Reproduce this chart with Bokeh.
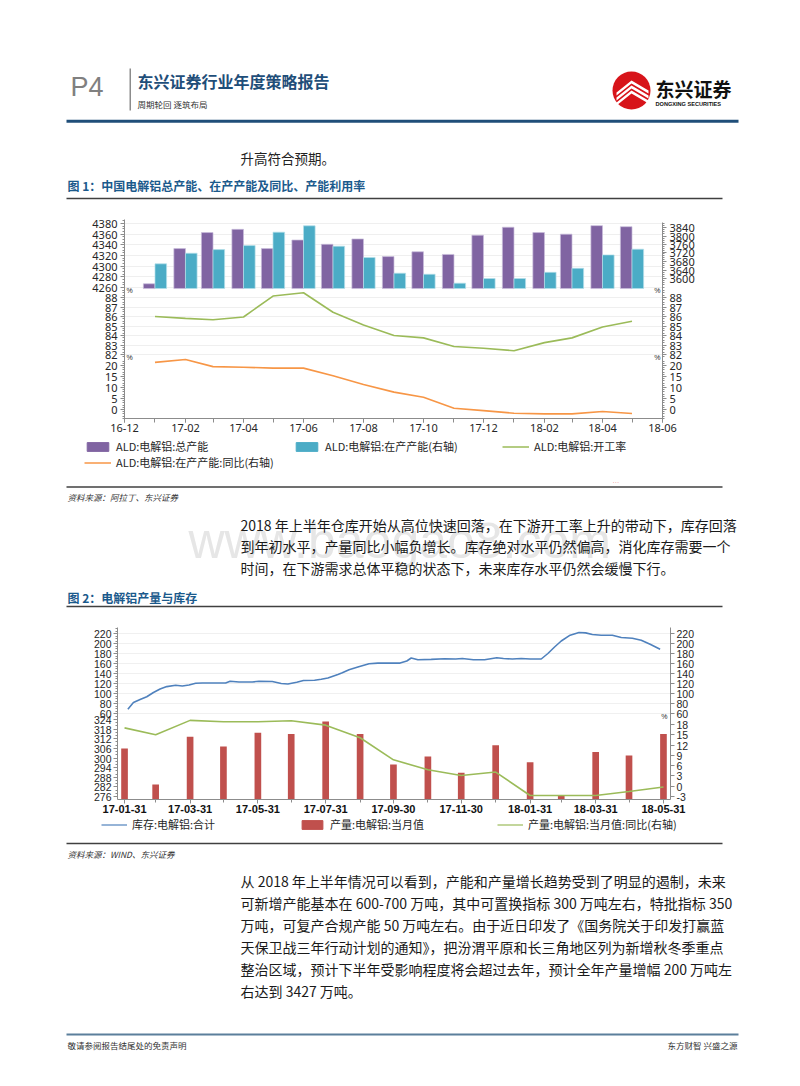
import math
import pandas as pd
from bokeh.plotting import figure
from bokeh.layouts import column
from bokeh.models import (Range1d, LinearAxis, FixedTicker, DatetimeTickFormatter,
                          Legend, LegendItem, Label, BoxAnnotation, PolyAnnotation,
                          ColumnDataSource)
from bokeh.transform import dodge
from bokeh.embed import file_html
from bokeh.resources import INLINE

# ---------------- chart 1 data ----------------
cap_months = ["2017-01", "2017-02", "2017-03", "2017-04", "2017-05", "2017-06", "2017-07",
              "2017-08", "2017-09", "2017-10", "2017-11", "2017-12", "2018-01", "2018-02",
              "2018-03", "2018-04", "2018-05"]
total_capacity = [4267, 4333, 4363, 4369, 4333, 4349, 4341, 4351, 4318, 4327, 4322, 4358,
                  4373, 4363, 4360, 4376, 4374]
operating_capacity = [3669, 3719, 3736, 3755, 3818, 3848, 3752, 3699, 3625, 3620, 3578, 3600,
                      3600, 3629, 3648, 3711, 3738]
utilization = [86.0, 85.8, 85.65, 85.95, 88.15, 88.5, 86.45, 85.1, 84.0, 83.75, 82.85, 82.65,
               82.4, 83.25, 83.75, 84.9, 85.5]
operating_yoy = [21.4, 22.7, 19.5, 19.2, 18.8, 18.8, 15.3, 11.4, 7.9, 5.6, 0.6, -0.5, -1.7,
                 -2.0, -2.0, -0.9, -1.8]
c1_label_months = ["2016-12", "2017-02", "2017-04", "2017-06", "2017-08", "2017-10", "2017-12",
                   "2018-02", "2018-04", "2018-06"]
c1_left_ticks = [4260, 4280, 4300, 4320, 4340, 4360, 4380]
c1_right_ticks = [3600, 3640, 3680, 3720, 3760, 3800, 3840]
c1_util_ticks = [82, 83, 84, 85, 86, 87, 88]
c1_yoy_ticks = [0, 5, 10, 15, 20]
c1_labels = ["ALD:电解铝:总产能", "ALD:电解铝:在产产能(右轴)", "ALD:电解铝:开工率",
             "ALD:电解铝:在产产能:同比(右轴)"]

# ---------------- chart 2 data ----------------
prod_months = ["2017-01-31", "2017-02-28", "2017-03-31", "2017-04-30", "2017-05-31",
               "2017-06-30", "2017-07-31", "2017-08-31", "2017-09-30", "2017-10-31",
               "2017-11-30", "2017-12-31", "2018-01-31", "2018-02-28", "2018-03-31",
               "2018-04-30", "2018-05-31"]
production = [306, 283.5, 313.3, 307.2, 315.8, 315, 322.8, 315, 296, 301, 290.8, 308, 297.3,
              276.8, 303.7, 301.6, 315]
production_yoy = [17.1, 15.1, 19.3, 18.9, 18.9, 19.2, 17.9, 14.2, 7.7, 4.8, 3.1, 4.1, -2.8,
                  -2.8, -2.8, -1.6, -0.3]
inv_dates = ["2017-02-03", "2017-02-08", "2017-02-14", "2017-02-20", "2017-02-26", "2017-03-04",
             "2017-03-10", "2017-03-18", "2017-03-24", "2017-03-30", "2017-04-05", "2017-04-11",
             "2017-04-19", "2017-05-02", "2017-05-06", "2017-05-14", "2017-05-26", "2017-06-01",
             "2017-06-13", "2017-06-21", "2017-06-27", "2017-07-05", "2017-07-11", "2017-07-21",
             "2017-07-27", "2017-08-02", "2017-08-11", "2017-08-15", "2017-08-21", "2017-08-29",
             "2017-09-08", "2017-09-16", "2017-09-28", "2017-10-06", "2017-10-12", "2017-10-16",
             "2017-10-22", "2017-11-03", "2017-11-15", "2017-11-25", "2017-12-01", "2017-12-11",
             "2017-12-21", "2018-01-01", "2018-01-07", "2018-01-15", "2018-01-23", "2018-01-31",
             "2018-02-10", "2018-02-16", "2018-02-22", "2018-02-28", "2018-03-08", "2018-03-16",
             "2018-03-22", "2018-03-28", "2018-04-05", "2018-04-15", "2018-04-23", "2018-05-03",
             "2018-05-11", "2018-05-19", "2018-05-28"]
inventory = [68.7, 82, 88, 93.6, 102, 109, 113.8, 116.5, 115, 117, 120.5, 121, 121, 121, 124.5,
             123, 123, 124.5, 124, 120, 119, 122.5, 126, 126.5, 128.5, 131, 138, 141.4, 147.4,
             152.8, 159.5, 160.8, 160.8, 160.8, 165, 171, 167.6, 168.2, 169.6, 169, 170, 167.6,
             167.6, 171.6, 170, 169, 170, 169, 169, 180, 193, 205, 216.6, 222, 221.3, 218, 216.6,
             216.6, 212, 210.6, 206.6, 198.5, 188.4]
c2_label_dates = ["2017-01-31", "2017-03-31", "2017-05-31", "2017-07-31", "2017-09-30",
                  "2017-11-30", "2018-01-31", "2018-03-31", "2018-05-31"]
c2_inv_ticks = [60, 80, 100, 120, 140, 160, 180, 200, 220]
c2_prod_ticks = [276, 282, 288, 294, 300, 306, 312, 318, 324]
c2_yoy_ticks = [-3, 0, 3, 6, 9, 12, 15, 18]
c2_labels = ["库存:电解铝:合计", "产量:电解铝:当月值", "产量:电解铝:当月值:同比(右轴)"]

# ---------------- page text ----------------
para1 = ["2018 年上半年仓库开始从高位快速回落，在下游开工率上升的带动下，库存回落",
         "到年初水平，产量同比小幅负增长。库存绝对水平仍然偏高，消化库存需要一个",
         "时间，在下游需求总体平稳的状态下，未来库存水平仍然会缓慢下行。"]
para2 = ["从 2018 年上半年情况可以看到，产能和产量增长趋势受到了明显的遏制，未来",
         "可新增产能基本在 600-700 万吨，其中可置换指标 300 万吨左右，特批指标 350",
         "万吨，可复产合规产能 50 万吨左右。由于近日印发了《国务院关于印发打赢蓝",
         "天保卫战三年行动计划的通知》，把汾渭平原和长三角地区列为新增秋冬季重点",
         "整治区域，预计下半年受影响程度将会超过去年，预计全年产量增幅 200 万吨左",
         "右达到 3427 万吨。"]

W = 800
CJK = "Noto Sans CJK SC"
AXC = "#8c8c8c"
TXT = "#262626"
PURPLE, CYAN, GREEN, ORANGE = "#8064a2", "#4bacc6", "#9bbb59", "#f79646"
BLUE, RED = "#4f81bd", "#c0504d"
NAVY = "#1f4e79"
TITLEC = "#1b5a8c"
DAY = 86400000
NAN = float("nan")


def ms(s):
    return pd.Timestamp(s).value // 10**6


def band(h, top=0):
    # data y = page pixels measured from a reference line `top` px above the band's own top
    p = figure(width=W, height=h, x_range=Range1d(0, W), y_range=Range1d(h - top, -top),
               x_axis_location=None, y_axis_location=None, min_border=0,
               frame_align=False, output_backend="svg", toolbar_location=None)
    p.outline_line_color = None
    p.grid.visible = False
    return p


def text(p, x, y, s, size, color=TXT, style="normal", font=CJK, align="left"):
    p.add_layout(Label(x=x, y=y, text=s, text_font=font, text_font_size=f"{size}px",
                       text_color=color, text_font_style=style, text_align=align,
                       text_baseline="middle"))


def rule(p, x0, x1, y, t, color):
    p.add_layout(BoxAnnotation(left=x0, right=x1, top=y - t / 2, bottom=y + t / 2,
                               fill_color=color, fill_alpha=1, line_color=None))


def lin_range(va, ya, vb, yb, top, bot):
    """value range spanning the frame, given two (value, screen-y) reference points"""
    k = (ya - yb) / (vb - va)
    return (va - (bot - ya) / k, va + (ya - top) / k)


def virt(v, r, fh):
    return (v - r[0]) / (r[1] - r[0]) * fh


def stacked_ticker(groups, fh):
    major, minor, over = [], [], {}
    for ticks, step, lo, hi, r in groups:
        for v in ticks:
            pos = int(round(virt(v, r, fh)))
            major.append(pos)
            over[pos] = str(v)
        if step:
            n = int(round((hi - lo) / step))
            for i in range(n + 1):
                minor.append(virt(lo + i * step, r, fh))
    return FixedTicker(ticks=major, minor_ticks=minor), over


def style_axes(p, font="Noto Sans", size="11px", minor_out=2, standoff=3):
    for ax in p.axis:
        ax.axis_line_color = AXC
        ax.major_tick_line_color = AXC
        ax.minor_tick_line_color = AXC
        ax.major_tick_in = 0
        ax.major_tick_out = 4
        ax.minor_tick_in = 0
        ax.minor_tick_out = minor_out
        ax.major_label_text_font = font
        ax.major_label_text_font_size = size
        ax.major_label_text_color = TXT
        ax.major_label_standoff = standoff


# ================= band A: header =================
HA = 213
pA = band(HA)
text(pA, 70, 86, "P4", 27, color="#808080", font="Liberation Sans")
rule(pA, 129, 130.5, 89, 42, "#8c8c8c")
text(pA, 137, 80, "东兴证券行业年度策略报告", 16, color=NAVY, style="bold")
text(pA, 137, 103, "周期轮回 逐筑布局", 8.5, color="#333333")
pA.add_layout(BoxAnnotation(left=612, right=650, top=71, bottom=109, border_radius=19,
                            fill_color="#d7141a", fill_alpha=1, line_color=None))
for dy in (0, 5, 10):
    pA.add_layout(PolyAnnotation(xs=[616, 631, 648, 648, 631, 616],
                                 ys=[92 + dy, 80 + dy, 90 + dy, 93 + dy, 83 + dy, 95 + dy],
                                 fill_color="white", fill_alpha=1, line_color=None))
text(pA, 655, 88, "东兴证券", 19, color="#111111", style="bold")
text(pA, 655, 103, "DONGXING SECURITIES", 5.6, color="#111111", style="bold",
     font="Liberation Sans")
rule(pA, 66, 738, 120.7, 3, NAVY)
text(pA, 240, 157, "升高符合预期。", 13.5, color="#222222")
text(pA, 67, 185, "图 1：中国电解铝总产能、在产产能及同比、产能利用率", 12, color=TITLEC,
     style="bold")
rule(pA, 66, 722, 198, 1.5, "#404040")

# ================= chart 1 (three stacked panels, one frame) =================
C1_TOP, C1_BOT, C1_BB = HA, 418, 20
FH1 = C1_BOT - C1_TOP
r_tl = lin_range(4260, 287, 4380, 223, C1_TOP, C1_BOT)
r_tr = lin_range(3600, 278, 3840, 227, C1_TOP, C1_BOT)
r_md = lin_range(82, 354, 88, 297, C1_TOP, C1_BOT)
r_bt = lin_range(0, 409, 20, 365, C1_TOP, C1_BOT)

xr1 = Range1d(start=pd.Timestamp("2016-12-01"), end=pd.Timestamp("2018-06-01"))
src1 = ColumnDataSource(dict(m=pd.to_datetime(cap_months), total=total_capacity,
                             op=operating_capacity, util=utilization, yoy=operating_yoy))
OFF = 5.9 * DAY
BW = 11.8 * DAY
BASE_TOTAL = 4258
BASE_OP = 3553

p1 = figure(width=W, height=FH1 + C1_BB, x_range=xr1, y_range=Range1d(0, FH1),
            x_axis_type="datetime", min_border_left=124, min_border_right=138,
            min_border_top=0, min_border_bottom=C1_BB, frame_align=False,
            output_backend="svg", toolbar_location=None)
p1.outline_line_color = None
p1.xgrid.visible = False
p1.extra_y_ranges = {"tl": Range1d(*r_tl), "tr": Range1d(*r_tr), "md": Range1d(*r_md),
                     "bt": Range1d(*r_bt)}
p1.vbar(x=dodge("m", -OFF), top="total", bottom=BASE_TOTAL, width=BW, source=src1,
        y_range_name="tl", fill_color=PURPLE, line_color="#c9bddb", line_width=0.7)
p1.vbar(x=dodge("m", OFF), top="op", bottom=BASE_OP, width=BW, source=src1,
        y_range_name="tr", fill_color=CYAN, line_color="#b4dfea", line_width=0.7)
p1.line(x="m", y="util", source=src1, y_range_name="md", line_color=GREEN, line_width=1.6)
p1.line(x="m", y="yoy", source=src1, y_range_name="bt", line_color=ORANGE, line_width=1.6)

tL, oL = stacked_ticker([(c1_left_ticks, 5, 4255, 4385, r_tl),
                         (c1_util_ticks, 0.25, 81.75, 88.75, r_md),
                         (c1_yoy_ticks, 1, -4, 22, r_bt)], FH1)
tR, oR = stacked_ticker([(c1_right_ticks, 10, 3560, 3860, r_tr),
                         (c1_util_ticks, 0.25, 81.75, 88.75, r_md),
                         (c1_yoy_ticks, 1, -4, 22, r_bt)], FH1)
gridpos, _ = stacked_ticker([(c1_left_ticks, None, 0, 0, r_tl),
                             (c1_util_ticks, None, 0, 0, r_md)], FH1)
p1.yaxis[0].ticker = tL
p1.yaxis[0].major_label_overrides = oL
p1.yaxis[0].bounds = (0, C1_BOT - 219)
p1.ygrid.ticker = FixedTicker(ticks=gridpos.ticks)
p1.ygrid.grid_line_color = "#efefef"
p1.add_layout(LinearAxis(ticker=tR, major_label_overrides=oR, bounds=(0, C1_BOT - 222)),
              "right")
all_months = pd.to_datetime(["2016-12"] + cap_months + ["2018-06"])
p1.xaxis[0].ticker = FixedTicker(ticks=[ms(m) for m in c1_label_months],
                                 minor_ticks=[ms(m) for m in all_months])
p1.xaxis[0].formatter = DatetimeTickFormatter(days="%y-%m", months="%y-%m", years="%y-%m")
style_axes(p1)
p1.xaxis[0].minor_tick_out = 4
p1.xaxis[0].major_label_standoff = 1
X0, X1 = ms("2016-12-01"), ms("2018-06-01")
for rn, yv in (("md", 88.737), ("bt", 23.41)):
    for xx, al, off in ((X0, "left", 2), (X1, "right", -2)):
        p1.add_layout(Label(x=xx, y=yv, y_range_name=rn, text="%", text_align=al,
                            x_offset=off, text_baseline="middle", text_font_size="7px",
                            text_color=TXT))

# ================= band B (page y 438..616; data y measured from page y 440) =================
HB = 616 - (HA + FH1 + C1_BB)
pB = band(HB, top=440 - (HA + FH1 + C1_BB))
text(pB, 188, 100, "www.baogao8.com", 50, color="#e6e6e6", font="Liberation Sans")
d1 = pB.vbar(x=[NAN], top=[NAN], width=1, fill_color=PURPLE, line_color=PURPLE)
d2 = pB.vbar(x=[NAN], top=[NAN], width=1, fill_color=CYAN, line_color=CYAN)
d3 = pB.line(x=[NAN, NAN], y=[NAN, NAN], line_color=GREEN, line_width=1.5)
d4 = pB.line(x=[NAN, NAN], y=[NAN, NAN], line_color=ORANGE, line_width=1.5)
legB = Legend(items=[LegendItem(label=c1_labels[0], renderers=[d1]),
                     LegendItem(label=c1_labels[1], renderers=[d2]),
                     LegendItem(label=c1_labels[2], renderers=[d3]),
                     LegendItem(label=c1_labels[3], renderers=[d4])],
              location=(84, 146), orientation="horizontal", ncols=3,
              glyph_width=27, glyph_height=11, label_width=177, label_height=13,
              label_standoff=5, spacing=0, padding=0, margin=0, border_line_color=None,
              background_fill_alpha=0, label_text_font=CJK, label_text_font_size="11px",
              label_text_color=TXT)
pB.add_layout(legB)
text(pB, 612, 40, "...", 8, color="#f2a0a0", font="Liberation Sans")
rule(pB, 66, 722, 46.5, 1.5, "#404040")
text(pB, 67, 56.5, "资料来源：阿拉丁、东兴证券", 8.5, color="#333333", style="italic")
for i, line in enumerate(para1):
    text(pB, 240, 84 + 21.5 * i, line, 14, color="#1a1a1a")
text(pB, 67, 157, "图 2：电解铝产量与库存", 12, color=TITLEC, style="bold")
rule(pB, 66, 722, 166, 1.5, "#404040")

# ================= chart 2 (two stacked panels, one frame) =================
C2_TOP, C2_BOT, C2_BB = 616, 799, 18
FH2 = C2_BOT - C2_TOP
r_inv = lin_range(60, 713, 220, 633, C2_TOP, C2_BOT)
r_prod = lin_range(276, 796, 324, 719, C2_TOP, C2_BOT)
r_yoy = lin_range(-3, 795.7, 18, 724.3, C2_TOP, C2_BOT)
BASE_PROD = 274.13

xr2 = Range1d(start=pd.Timestamp("2017-01-24 16:00"), end=pd.Timestamp("2018-06-06 08:00"))
src_inv = ColumnDataSource(dict(d=pd.to_datetime(inv_dates), v=inventory))
src_prod = ColumnDataSource(dict(m=pd.to_datetime(prod_months), prod=production,
                                 yoy=production_yoy))

p2 = figure(width=W, height=FH2 + C2_BB, x_range=xr2, y_range=Range1d(0, FH2),
            x_axis_type="datetime", min_border_left=117, min_border_right=130,
            min_border_top=0, min_border_bottom=C2_BB, frame_align=False,
            output_backend="svg", toolbar_location=None)
p2.outline_line_color = None
p2.xgrid.visible = False
p2.extra_y_ranges = {"inv": Range1d(*r_inv), "prod": Range1d(*r_prod),
                     "yoy": Range1d(*r_yoy)}
p2.line(x="d", y="v", source=src_inv, y_range_name="inv", line_color=BLUE, line_width=1.6)
p2.vbar(x="m", top="prod", bottom=BASE_PROD, width=6 * DAY, source=src_prod,
        y_range_name="prod", fill_color=RED, line_color=None)
p2.line(x="m", y="yoy", source=src_prod, y_range_name="yoy", line_color=GREEN, line_width=1.6)

tL2, oL2 = stacked_ticker([(c2_inv_ticks, 5, 60, 230, r_inv),
                           (c2_prod_ticks, 2, 274, 326, r_prod)], FH2)
tR2, oR2 = stacked_ticker([(c2_inv_ticks, None, 0, 0, r_inv),
                           (c2_yoy_ticks, None, 0, 0, r_yoy)], FH2)
grid2, _ = stacked_ticker([(c2_inv_ticks, None, 0, 0, r_inv)], FH2)
p2.yaxis[0].ticker = tL2
p2.yaxis[0].major_label_overrides = oL2
p2.yaxis[0].bounds = (0, C2_BOT - 627)
p2.ygrid.ticker = FixedTicker(ticks=grid2.ticks)
p2.ygrid.grid_line_color = "#f0f0f0"
p2.add_layout(LinearAxis(ticker=tR2, major_label_overrides=oR2, bounds=(0, C2_BOT - 627)),
              "right")
p2.xaxis[0].ticker = FixedTicker(ticks=[ms(d) for d in c2_label_dates],
                                 minor_ticks=[ms(d) for d in prod_months])
p2.xaxis[0].formatter = DatetimeTickFormatter(days="%y-%m-%d", months="%y-%m-%d",
                                              years="%y-%m-%d")
style_axes(p2, font="Liberation Sans", size="10.5px", standoff=2)
p2.xaxis[0].major_label_text_font_style = "bold"
p2.xaxis[0].major_label_text_font_size = "11px"
p2.xaxis[0].major_label_text_color = "#111111"
p2.xaxis[0].minor_tick_out = 3
p2.xaxis[0].major_label_standoff = 1
p2.add_layout(Label(x=ms("2018-06-06 08:00"), y=20.44, y_range_name="yoy", text="%",
                    text_align="right", x_offset=-3, text_baseline="middle",
                    text_font_size="7px", text_color=TXT))

# ================= band C =================
HC = 1086 - 616 - (FH2 + C2_BB)
pC = band(HC)
e1 = pC.line(x=[NAN, NAN], y=[NAN, NAN], line_color=BLUE, line_width=1.2)
e2 = pC.vbar(x=[NAN], top=[NAN], width=1, fill_color=RED, line_color=RED)
e3 = pC.line(x=[NAN, NAN], y=[NAN, NAN], line_color=GREEN, line_width=1.2)
legC = Legend(items=[LegendItem(label=c2_labels[0], renderers=[e1]),
                     LegendItem(label=c2_labels[1], renderers=[e2]),
                     LegendItem(label=c2_labels[2], renderers=[e3])],
              location=(101, HC - 15), orientation="horizontal", ncols=3,
              glyph_width=26, glyph_height=11, label_width=167, label_height=13,
              label_standoff=5, spacing=0, padding=0, margin=0, border_line_color=None,
              background_fill_alpha=0, label_text_font=CJK, label_text_font_size="11px",
              label_text_color=TXT)
pC.add_layout(legC)
rule(pC, 66, 722, 26, 1.5, "#404040")
text(pC, 67, 36, "资料来源：WIND、东兴证券", 8.5, color="#333333", style="italic")
for i, line in enumerate(para2):
    text(pC, 240, 63 + 22 * i, line, 14, color="#1a1a1a")
rule(pC, 66, 738, 217, 2, "#5b7f9b")
text(pC, 67, 227, "敬请参阅报告结尾处的免责声明", 8.5, color="#333333")
text(pC, 737, 227, "东方财智 兴盛之源", 8.5, color="#333333", align="right")

layout = column(pA, p1, pB, p2, pC, spacing=0)
open("out.html", "w").write(file_html(layout, INLINE, title="P4"))
